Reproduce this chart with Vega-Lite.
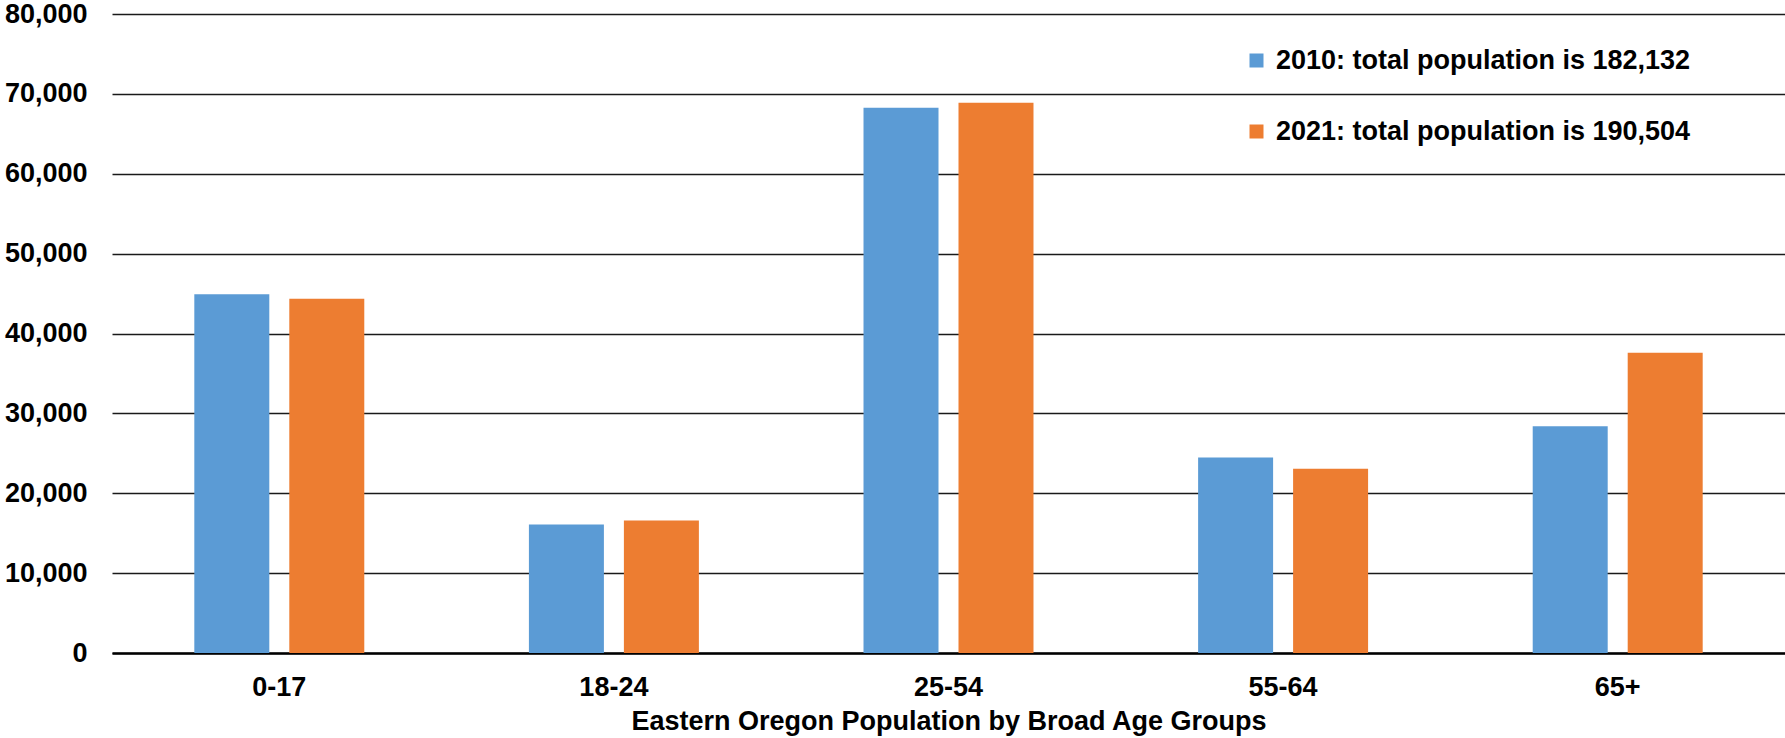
{
  "$schema": "https://vega.github.io/schema/vega-lite/v6.json",
  "width": 1673,
  "height": 639,
  "autosize": {"type": "none"},
  "padding": {"left": 112, "top": 14, "right": 0, "bottom": 85},
  "background": "white",
  "data": {
    "values": [
      {"age": "0-17", "year": "2010", "population": 44900},
      {"age": "0-17", "year": "2021", "population": 44350},
      {"age": "18-24", "year": "2010", "population": 16100},
      {"age": "18-24", "year": "2021", "population": 16600},
      {"age": "25-54", "year": "2010", "population": 68250},
      {"age": "25-54", "year": "2021", "population": 68900},
      {"age": "55-64", "year": "2010", "population": 24482},
      {"age": "55-64", "year": "2021", "population": 23060},
      {"age": "65+", "year": "2010", "population": 28400},
      {"age": "65+", "year": "2021", "population": 37594}
    ]
  },
  "mark": {"type": "bar", "strokeWidth": 0},
  "encoding": {
    "x": {
      "field": "age",
      "type": "nominal",
      "sort": ["0-17", "18-24", "25-54", "55-64", "65+"],
      "scale": {"paddingInner": 0.492, "paddingOuter": 0.246},
      "axis": {
        "title": "Eastern Oregon Population by Broad Age Groups",
        "labelAngle": 0,
        "labelFontSize": 27,
        "labelFont": "Liberation Sans",
        "labelFontWeight": "bold",
        "labelColor": "black",
        "labelPadding": 21,
        "ticks": false,
        "tickSize": 0,
        "domain": true,
        "domainColor": "black",
        "domainWidth": 2.7,
        "grid": false,
        "titleFont": "Liberation Sans",
        "titleFontSize": 27,
        "titleFontWeight": "bold",
        "titleColor": "black",
        "titlePadding": 8
      }
    },
    "xOffset": {
      "field": "year",
      "type": "nominal",
      "scale": {"paddingInner": 0.2105, "paddingOuter": 0}
    },
    "y": {
      "field": "population",
      "type": "quantitative",
      "scale": {"domain": [0, 80000], "nice": false},
      "axis": {
        "title": null,
        "values": [0, 10000, 20000, 30000, 40000, 50000, 60000, 70000, 80000],
        "format": ",.0f",
        "labelFontSize": 27,
        "labelFont": "Liberation Sans",
        "labelFontWeight": "bold",
        "labelColor": "black",
        "labelPadding": 25,
        "ticks": false,
        "tickSize": 0,
        "domain": false,
        "grid": true,
        "gridColor": "#1a1a1a",
        "gridWidth": 1.3
      }
    },
    "color": {
      "field": "year",
      "type": "nominal",
      "scale": {"domain": ["2010", "2021"], "range": ["#5B9BD5", "#ED7D31"]},
      "legend": {
        "title": null,
        "orient": "none",
        "legendX": 1131,
        "legendY": 33,
        "padding": 0,
        "symbolType": "square",
        "symbolSize": 196,
        "symbolStrokeWidth": 0,
        "labelFontSize": 27,
        "labelFont": "Liberation Sans",
        "labelFontWeight": "bold",
        "labelColor": "black",
        "labelOffset": 6,
        "rowPadding": 43,
        "labelLimit": 600,
        "labelExpr": "datum.label == '2010' ? '2010: total population is 182,132' : '2021: total population is 190,504'"
      }
    }
  },
  "config": {
    "view": {"stroke": null},
    "font": "Liberation Sans"
  }
}
